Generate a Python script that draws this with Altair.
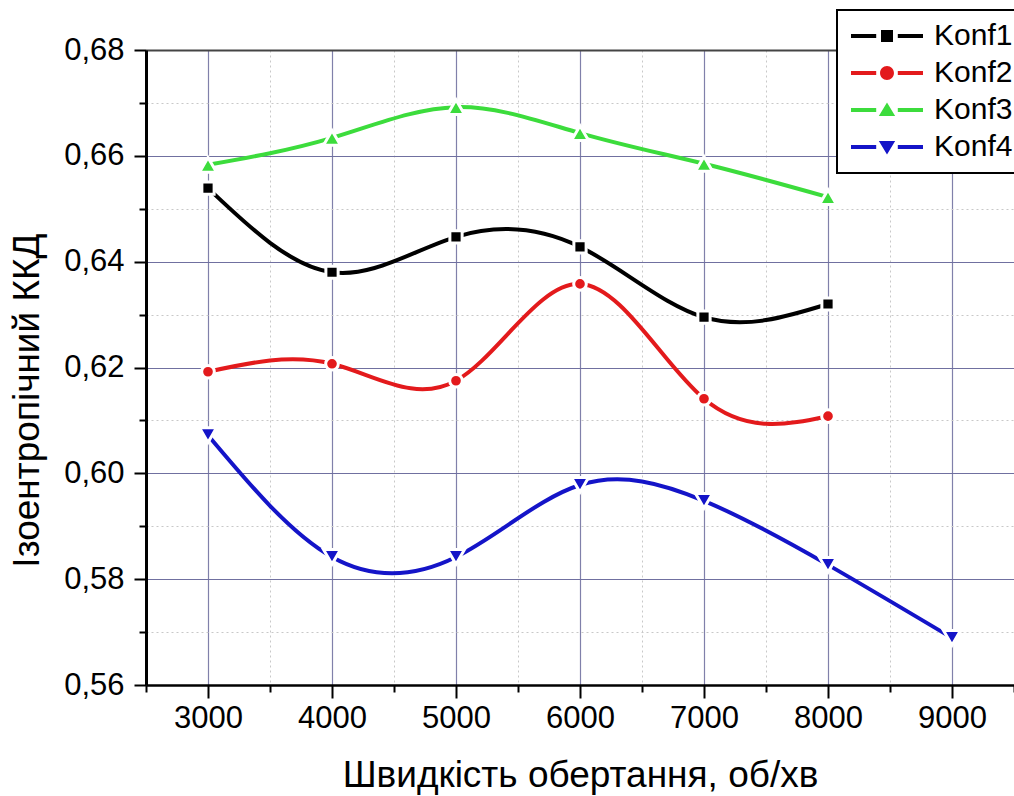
import altair as alt
import pandas as pd

# ---- data ----
speeds = [3000, 4000, 5000, 6000, 7000, 8000]
speeds_k4 = [3000, 4000, 5000, 6000, 7000, 8000, 9000]
konf1 = [0.6539, 0.6380, 0.6447, 0.6428, 0.6295, 0.6320]
konf2 = [0.6192, 0.6207, 0.6175, 0.6358, 0.6141, 0.6108]
konf3 = [0.6583, 0.6634, 0.6692, 0.6643, 0.6585, 0.6522]
konf4 = [0.6072, 0.5842, 0.5842, 0.5978, 0.5948, 0.5827, 0.5689]
series_names = ["Konf1", "Konf2", "Konf3", "Konf4"]

x_major = [3000, 4000, 5000, 6000, 7000, 8000, 9000]
x_minor = [2500, 3500, 4500, 5500, 6500, 7500, 8500, 9500]
y_major = [0.56, 0.58, 0.60, 0.62, 0.64, 0.66, 0.68]
y_minor = [0.57, 0.59, 0.61, 0.63, 0.65, 0.67]

x_title = "Швидкість обертання, об/хв"
y_title = "Ізоентропічний ККД"

# ---- styles ----
colors = ["#000000", "#e31a1c", "#3cdc3c", "#1414c8"]
marker_shapes = ["square", "circle", "triangle-up", "triangle-down"]
marker_sizes = [150, 160, 290, 290]
FONT = "Liberation Sans"

rows = []
for name, xs, ys in [("Konf1", speeds, konf1), ("Konf2", speeds, konf2),
                     ("Konf3", speeds, konf3), ("Konf4", speeds_k4, konf4)]:
    for xv, yv in zip(xs, ys):
        rows.append({"speed": xv, "eff": yv, "series": name})
df = pd.DataFrame(rows)

# legend symbols: line - marker - line (custom SVG paths, unit = sqrt(size)/2)
seg = "M-1,-0.17H1.1V0.17H-1Z M2.9,-0.17H5V0.17H2.9Z "
legend_paths = [
    seg + "M1.5,-0.5H2.5V0.5H1.5Z",
    seg + "M1.42,0A0.58,0.58 0 1,0 2.58,0A0.58,0.58 0 1,0 1.42,0Z",
    seg + "M2,-0.62L2.68,0.5H1.32Z",
    seg + "M2,0.62L2.68,-0.5H1.32Z",
]

xdom = alt.Scale(domain=[2500, 9500], nice=False, zero=False)
ydom = alt.Scale(domain=[0.56, 0.68], nice=False, zero=False)
cscale = alt.Scale(domain=series_names, range=colors)

major_x_axis = alt.Axis(
    values=x_major, title=x_title, grid=True, gridColor="#8080aa", gridWidth=1.2,
    tickSize=13, tickWidth=2, tickColor="black", domainColor="black", domainWidth=2.5,
    labelFont=FONT, labelFontSize=31, labelColor="black", labelPadding=5, labelFlush=False,
    titleFont=FONT, titleFontSize=37, titleFontWeight="normal", titleColor="black",
    titleY=90, titleBaseline="middle", format="d", orient="bottom",
)
major_y_axis = alt.Axis(
    values=y_major, title=y_title, grid=True, gridColor="#7070a0", gridWidth=1.2,
    tickSize=12, tickWidth=2, tickColor="black", domainColor="black", domainWidth=3,
    labelFont=FONT, labelFontSize=31, labelColor="black", labelPadding=10, labelFlush=False,
    labelExpr="replace(format(datum.value, '.2f'), '.', ',')",
    titleFont=FONT, titleFontSize=37, titleFontWeight="normal", titleColor="black",
    titleX=-119, titleY=350, titleBaseline="middle", titleAlign="center", titleAngle=270,
    orient="left",
)
minor_x_axis = alt.Axis(
    values=x_minor, title=None, labels=False, domain=False, grid=True,
    gridColor="#c8c8c8", gridDash=[2, 3], gridWidth=1,
    tickSize=7, tickWidth=2, tickColor="black", orient="bottom",
)
minor_y_axis = alt.Axis(
    values=y_minor, title=None, labels=False, domain=False, grid=True,
    gridColor="#c8c8c8", gridDash=[2, 3], gridWidth=1,
    tickSize=7, tickWidth=2, tickColor="black", orient="left",
)
top_axis = alt.Axis(
    orient="top", title=None, labels=False, ticks=False, grid=False,
    domain=True, domainColor="#444444", domainWidth=2,
)

base = alt.Chart(df)

lines = base.mark_line(interpolate="natural", strokeWidth=4).encode(
    x=alt.X("speed:Q", scale=xdom, axis=major_x_axis),
    y=alt.Y("eff:Q", scale=ydom, axis=major_y_axis),
    color=alt.Color("series:N", scale=cscale, legend=None),
    detail="series:N",
)

legend_layer = base.mark_point(filled=True, opacity=0).encode(
    x=alt.X("speed:Q", scale=xdom, axis=minor_x_axis),
    y=alt.Y("eff:Q", scale=ydom, axis=minor_y_axis),
    color=alt.Color("series:N", scale=cscale, legend=alt.Legend(title=None)),
    shape=alt.Shape("series:N", scale=alt.Scale(domain=series_names, range=legend_paths),
                    legend=alt.Legend(title=None)),
)

point_layers = []
for i, name in enumerate(series_names):
    xa = top_axis if i == 0 else None
    point_layers.append(
        base.transform_filter(alt.datum.series == name)
        .mark_point(shape=marker_shapes[i], filled=True, size=marker_sizes[i],
                    color=colors[i], stroke="white", strokeWidth=3, opacity=1)
        .encode(
            x=alt.X("speed:Q", scale=xdom, axis=xa),
            y=alt.Y("eff:Q", scale=ydom, axis=None),
        )
    )

chart = (
    alt.layer(legend_layer, lines, *point_layers)
    .resolve_axis(x="independent", y="independent")
    .properties(
        width=868, height=635,
        autosize=alt.AutoSizeParams(type="none"),
        padding={"left": 146, "top": 50, "right": 0, "bottom": 111},
        background="white",
    )
    .configure_view(stroke=None)
    .configure_legend(
        orient="none", legendX=691, legendY=-40,
        fillColor="white", strokeColor="black", strokeWidth=2, cornerRadius=0,
        padding=11, symbolSize=576, symbolOpacity=1, symbolStrokeWidth=0,
        labelFont=FONT, labelFontSize=30, labelColor="black", labelOffset=56,
        rowPadding=7, labelLimit=200,
    )
)

chart.save("out.html", embed_options={"renderer": "svg", "actions": False})
